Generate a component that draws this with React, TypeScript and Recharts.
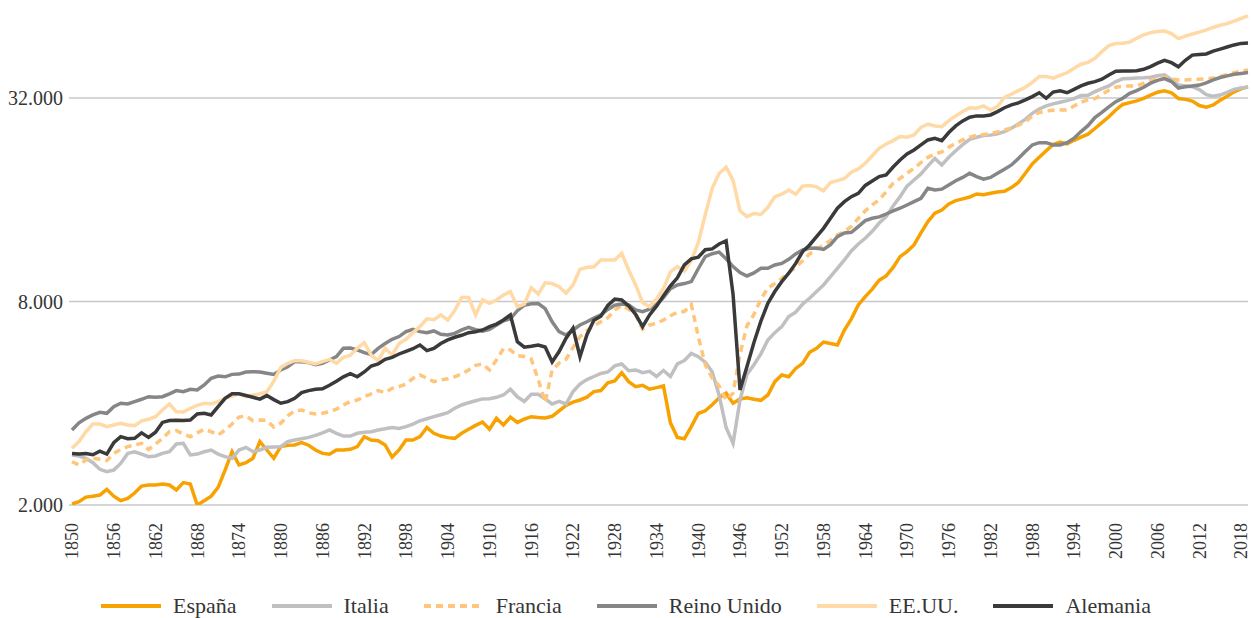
import { LineChart, Line, XAxis, YAxis, CartesianGrid } from 'recharts';

// PIB per cápita, 1850-2019 (one value per year)
const START_YEAR = 1850;

const ESPANA = [
  2014, 2046, 2110, 2124, 2141, 2225, 2124, 2060, 2093, 2170,
  2276, 2292, 2292, 2308, 2292, 2215, 2330, 2308, 2000, 2060,
  2124, 2255, 2538, 2875, 2627, 2667, 2750, 3080, 2909, 2750,
  2976, 3005, 3010, 3060, 3005, 2909, 2842, 2825, 2909, 2909,
  2922, 2976, 3185, 3114, 3100, 3010, 2770, 2909, 3114, 3114,
  3185, 3390, 3260, 3200, 3165, 3150, 3260, 3350, 3440, 3520,
  3350, 3610, 3449, 3640, 3510, 3590, 3650, 3630, 3620, 3660,
  3800, 3940, 4030, 4090, 4170, 4330, 4360, 4600, 4660, 4925,
  4635, 4480, 4520, 4400, 4450, 4500, 3500, 3170, 3140, 3410,
  3730, 3800, 3960, 4150, 4285, 4000, 4120, 4150, 4110, 4080,
  4231, 4635, 4850, 4790, 5070, 5250, 5660, 5815, 6070, 6010,
  5949, 6590, 7110, 7813, 8270, 8700, 9250, 9520, 10090, 10860,
  11240, 11760, 12770, 13790, 14600, 14925, 15550, 15900, 16100, 16300,
  16640, 16560, 16720, 16870, 16950, 17380, 18000, 19160, 20420, 21360,
  22340, 23290, 23700, 23400, 23990, 24500, 25020, 26000, 27060, 28150,
  29500, 30630, 31000, 31370, 31940, 32650, 33280, 33600, 33170, 31900,
  31700, 31340, 30400, 30040, 30520, 31500, 32400, 33380, 34060, 34580,
];

const ITALIA = [
  2812, 2793, 2750, 2667, 2550, 2510, 2538, 2655, 2842, 2875,
  2830, 2780, 2793, 2842, 2875, 3030, 3045, 2812, 2830, 2875,
  2909, 2830, 2780, 2750, 2909, 2962, 2875, 2909, 2962, 2970,
  2976, 3080, 3114, 3140, 3170, 3215, 3270, 3334, 3260, 3200,
  3200, 3260, 3285, 3295, 3334, 3360, 3390, 3370, 3410, 3472,
  3550, 3600, 3650, 3700, 3750, 3865, 3953, 4015, 4070, 4120,
  4125, 4165, 4231, 4400, 4180, 4050, 4250, 4250, 4120, 3980,
  4050, 3980, 4330, 4560, 4700, 4800, 4900, 4950, 5160, 5227,
  4995, 5018, 4925, 4970, 4800, 5000, 4800, 5230, 5350, 5620,
  5494, 5290, 4960, 4220, 3390, 3043, 4090, 4870, 5200, 5600,
  6156, 6470, 6740, 7220, 7440, 7860, 8180, 8560, 8954, 9480,
  10030, 10616, 11290, 11840, 12310, 12900, 13650, 14260, 15340, 16340,
  17560, 18310, 19080, 20160, 21200, 20280, 21360, 22340, 23290, 24160,
  24500, 24780, 24850, 25080, 25460, 26050, 26800, 27660, 28830, 29690,
  30320, 30740, 31090, 31430, 31860, 32550, 32600, 33420, 34130, 34740,
  35790, 36460, 36560, 36650, 36730, 36850, 37220, 37490, 36270, 34970,
  34760, 34570, 33880, 32740, 32380, 32640, 33250, 33950, 34250, 34410,
];

const FRANCIA = [
  2686, 2627, 2718, 2750, 2730, 2705, 2842, 2920, 2976, 3010,
  3045, 2920, 3030, 3150, 3296, 3320, 3245, 3185, 3270, 3350,
  3296, 3222, 3334, 3472, 3640, 3670, 3550, 3569, 3560, 3400,
  3490, 3670, 3800, 3820, 3750, 3718, 3735, 3776, 3840, 3953,
  4045, 4090, 4183, 4265, 4360, 4300, 4430, 4480, 4560, 4740,
  4850, 4740, 4635, 4687, 4725, 4790, 4880, 5018, 5180, 5227,
  5018, 5371, 5800, 5750, 5530, 5500, 5400, 4700, 4030, 5018,
  5260, 5400, 5850, 6300, 6560, 6780, 6970, 7160, 7550, 7780,
  7590, 7300, 6620, 6818, 6900, 7054, 7260, 7440, 7470, 7840,
  6300, 5200, 4750, 4500, 4090, 4285, 5600, 6780, 7320, 8130,
  8770, 9040, 9370, 9740, 10090, 10560, 11060, 11410, 11760, 12130,
  12590, 12900, 13330, 14100, 14840, 15442, 16000, 16900, 17900, 18500,
  19160, 19830, 20600, 21360, 21860, 22160, 22880, 23500, 24047, 24500,
  24850, 24950, 25120, 25400, 25742, 26100, 26580, 27160, 28330, 29000,
  29300, 29430, 29500, 29500, 30300, 31100, 31580, 31860, 32800, 33730,
  34420, 34660, 34740, 34740, 35380, 36000, 36500, 36800, 36400, 36190,
  36190, 36300, 36360, 36500, 36650, 37050, 37550, 38050, 38470, 38743,
];

const REINO_UNIDO = [
  3334, 3500, 3610, 3693, 3760, 3735, 3908, 4000, 3980, 4045,
  4110, 4183, 4165, 4183, 4265, 4360, 4330, 4400, 4378, 4530,
  4740, 4815, 4790, 4870, 4880, 4950, 4960, 4950, 4905, 4865,
  5018, 5130, 5310, 5310, 5275, 5205, 5250, 5371, 5494, 5815,
  5830, 5750, 5645, 5570, 5815, 6010, 6185, 6300, 6515, 6620,
  6515, 6470, 6545, 6400, 6369, 6440, 6590, 6710, 6600, 6540,
  6620, 6818, 7020, 7110, 7515, 7800, 7875, 7885, 7620, 6970,
  6515, 6369, 6590, 6818, 6970, 7150, 7300, 7580, 7800, 7860,
  7813, 7552, 7465, 7590, 7840, 8210, 8730, 8954, 9040, 9160,
  10000, 10860, 11080, 11200, 10700, 10150, 9740, 9520, 9720, 10030,
  10030, 10261, 10370, 10660, 11060, 11365, 11490, 11520, 11410, 11790,
  12440, 12760, 12820, 13330, 13880, 14100, 14240, 14520, 14840, 15100,
  15442, 15790, 16160, 17300, 17104, 17200, 17697, 18220, 18630, 19160,
  18730, 18400, 18630, 19160, 19700, 20281, 21200, 22230, 23241, 23600,
  23600, 23241, 23241, 23600, 24330, 25460, 26500, 28000, 29000, 30100,
  31220, 31940, 33030, 33650, 34420, 35400, 36070, 36530, 35800, 34250,
  34530, 34730, 34950, 35480, 36190, 36800, 37200, 37630, 37840, 38050,
];

const EEUU = [
  2945, 3080, 3295, 3472, 3472, 3410, 3449, 3490, 3449, 3435,
  3550, 3585, 3650, 3820, 3980, 3776, 3770, 3865, 3945, 4000,
  3980, 4045, 4135, 4200, 4265, 4183, 4225, 4265, 4320, 4650,
  5100, 5250, 5345, 5345, 5290, 5227, 5310, 5395, 5250, 5470,
  5545, 5815, 6040, 5557, 5345, 5815, 5557, 6010, 6185, 6470,
  6740, 7110, 7070, 7300, 7054, 7515, 8220, 8220, 7300, 8084,
  7900, 8084, 8364, 8560, 7720, 7860, 8790, 8420, 9090, 9040,
  8850, 8460, 8954, 9960, 10090, 10140, 10616, 10616, 10616, 11110,
  9917, 8954, 7940, 7720, 8130, 8740, 9790, 10150, 9840, 10580,
  11940, 14430, 17300, 19120, 20000, 18250, 14840, 14260, 14575, 14475,
  15200, 16340, 16610, 17104, 16610, 17560, 17640, 17470, 17020, 18000,
  18220, 18500, 19300, 19740, 20510, 21600, 22720, 23400, 23940, 24600,
  24500, 24880, 26200, 26800, 26460, 26330, 27440, 28330, 29170, 29950,
  29840, 30320, 29500, 30170, 32150, 32870, 33650, 34420, 35580, 37020,
  37020, 36650, 37350, 38000, 39200, 40290, 40800, 41960, 43890, 45720,
  46360, 46470, 46830, 48080, 49177, 49950, 50360, 50530, 49600, 47970,
  48780, 49500, 50130, 50880, 51740, 52520, 53100, 54000, 55000, 55970,
];

const ALEMANIA = [
  2842, 2830, 2842, 2817, 2885, 2830, 3056, 3185, 3140, 3150,
  3270, 3170, 3285, 3510, 3555, 3565, 3555, 3569, 3718, 3735,
  3693, 3908, 4137, 4265, 4265, 4215, 4165, 4115, 4215, 4100,
  4000, 4045, 4137, 4300, 4360, 4400, 4415, 4520, 4645, 4790,
  4890, 4790, 4950, 5155, 5227, 5395, 5470, 5595, 5700, 5800,
  5949, 5725, 5815, 6010, 6156, 6270, 6355, 6470, 6510, 6590,
  6740, 6860, 7054, 7300, 6085, 5860, 5900, 5950, 5870, 5300,
  5690, 6230, 6666, 5494, 6380, 7040, 7240, 7790, 8130, 8084,
  7760, 7330, 6740, 7300, 7750, 8320, 8900, 9400, 10260, 10700,
  10820, 11380, 11450, 11840, 12100, 8400, 4378, 5140, 6050, 7000,
  7900, 8560, 9160, 9700, 10370, 11240, 11760, 12440, 13170, 14100,
  15100, 15790, 16340, 16720, 17640, 18180, 18730, 18945, 20000, 20983,
  21860, 22463, 23241, 24047, 24330, 23940, 25290, 26460, 27370, 28080,
  28330, 28330, 28512, 29170, 29950, 30523, 30950, 31580, 32300, 33170,
  31940, 33330, 33600, 33170, 33950, 34770, 35380, 35790, 36360, 37446,
  38400, 38470, 38470, 38560, 38900, 39650, 40570, 41330, 40720, 39600,
  41370, 42860, 43050, 43200, 44050, 44640, 45280, 45940, 46420, 46580,
];

const X_TICKS = [
  1850, 1856, 1862, 1868, 1874, 1880, 1886, 1892, 1898, 1904, 1910, 1916, 1922, 1928, 1934,
  1940, 1946, 1952, 1958, 1964, 1970, 1976, 1982, 1988, 1994, 2000, 2006, 2012, 2018,
];
const Y_TICKS = [2000, 8000, 32000];

const SERIES = [
  { key: 'espana', name: 'España', color: '#F7A200', values: ESPANA, dash: undefined },
  { key: 'italia', name: 'Italia', color: '#C0BFC2', values: ITALIA, dash: undefined },
  { key: 'francia', name: 'Francia', color: '#FFC57A', values: FRANCIA, dash: '7 5' },
  { key: 'reino', name: 'Reino Unido', color: '#868686', values: REINO_UNIDO, dash: undefined },
  { key: 'eeuu', name: 'EE.UU.', color: '#FFD9A6', values: EEUU, dash: undefined },
  { key: 'alemania', name: 'Alemania', color: '#3A3A3A', values: ALEMANIA, dash: undefined },
];

const FONT = '"Liberation Serif", "DejaVu Serif", serif';
const TEXT = '#353535';
const GRID = '#C8C8C8';

const rows = ESPANA.map((_, i) => {
  const row: Record<string, number> = { year: START_YEAR + i };
  SERIES.forEach((s) => {
    row[s.key] = s.values[i];
  });
  return row;
});

const fmt = (v: number) => String(v).replace(/\B(?=(\d{3})+(?!\d))/g, '.');

function YearTick({ x, y, payload }: any) {
  return (
    <text
      transform={`translate(${x},${y + 10}) rotate(-90)`}
      textAnchor="end"
      dy="0.35em"
      fill={TEXT}
      style={{ fontFamily: FONT, fontSize: 18 }}
    >
      {payload.value}
    </text>
  );
}

function LegendRow() {
  return (
    <div
      style={{
        position: 'absolute',
        top: 592,
        left: 0,
        width: 1252,
        height: 28,
        display: 'flex',
        justifyContent: 'center',
        alignItems: 'center',
        fontFamily: FONT,
        fontSize: 22,
        color: TEXT,
      }}
    >
      {SERIES.map((s, i) => (
        <div
          key={s.key}
          style={{ display: 'flex', alignItems: 'center', marginRight: i < SERIES.length - 1 ? 35 : 0 }}
        >
          <svg width={60} height={6} style={{ marginRight: 12 }}>
            <line x1={0} y1={3} x2={60} y2={3} stroke={s.color} strokeWidth={4} strokeDasharray={s.dash} />
          </svg>
          <span>{s.name}</span>
        </div>
      ))}
    </div>
  );
}

export default function App() {
  return (
    <div style={{ position: 'absolute', left: 0, top: 0, width: 1252, height: 618, background: '#fff' }}>
      <LineChart width={1252} height={570} data={rows} margin={{ top: 5, right: 4, left: 0, bottom: 0 }}>
        <CartesianGrid vertical={false} horizontalValues={Y_TICKS} stroke={GRID} strokeWidth={1.5} />
        <XAxis
          dataKey="year"
          type="number"
          domain={[1850, 2019]}
          ticks={X_TICKS}
          interval={0}
          axisLine={false}
          tickLine={false}
          height={65}
          tick={<YearTick />}
        />
        <YAxis
          type="number"
          scale="log"
          domain={[2000, 60300]}
          allowDataOverflow
          ticks={Y_TICKS}
          interval={0}
          width={72}
          axisLine={false}
          tickLine={{ stroke: GRID, strokeWidth: 1.5 }}
          tickSize={3}
          tickMargin={6}
          tick={{ fontSize: 20, fill: TEXT, fontFamily: FONT }}
          tickFormatter={fmt}
        />
        {SERIES.map((s) => (
          <Line
            key={s.key}
            type="linear"
            dataKey={s.key}
            name={s.name}
            stroke={s.color}
            strokeWidth={3.5}
            strokeDasharray={s.dash}
            dot={false}
            activeDot={false}
            isAnimationActive={false}
          />
        ))}
      </LineChart>
      <LegendRow />
    </div>
  );
}
